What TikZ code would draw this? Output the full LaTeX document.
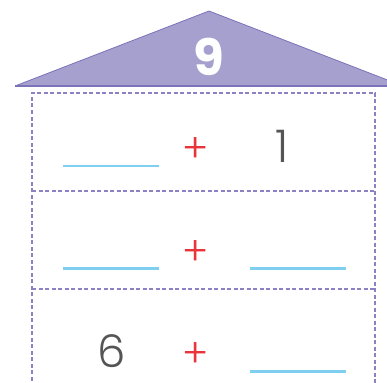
\documentclass[tikz,border=0pt]{standalone}
\usepackage{fontspec}
\setmainfont{Poppins}
\newfontfamily\poplight{Poppins}[UprightFont=* Light]
\definecolor{roofFill}{HTML}{A6A0CF}
\definecolor{roofLine}{HTML}{7B72BA}
\definecolor{boxLine}{HTML}{8A82C2}
\definecolor{blankLine}{HTML}{7FD0F0}
\definecolor{plusRed}{HTML}{E8343A}
\definecolor{digitGray}{HTML}{555555}
\begin{document}
\begin{tikzpicture}[x=1pt,y=-1pt,
  boxline/.style={draw=boxLine,line width=1.2pt,dash pattern=on 4pt off 2.5pt},
  blank/.style={draw=blankLine,line width=2.2pt},
  plussign/.style={text=plusRed,font=\poplight\fontsize{40}{40}\selectfont,inner sep=0pt},
  digit/.style={text=digitGray,font=\poplight\fontsize{45}{45}\selectfont,inner sep=0pt},
  roofnum/.style={text=white,font=\bfseries\fontsize{50}{50}\selectfont,inner sep=0pt}]
\useasboundingbox (0,0) rectangle (387,382);
% roof
\coordinate (rl) at (15,86);
\coordinate (ra) at (209,11);
\coordinate (rr) at (403,86);
\fill[roofFill] (rl) -- (ra) -- (rr) -- cycle;
\draw[roofLine,line width=0.8pt] (rl) -- (ra) -- (rr);
\draw[roofLine,line width=1.2pt] (rl) -- (rr);
\node[roofnum] (nine) at (209,57) {9};
% dashed house body
\coordinate (bl) at (32,400);
\coordinate (tl) at (32,93);
\coordinate (tr) at (375,93);
\coordinate (br) at (375,400);
\draw[boxline] (bl) -- (tl) -- (tr) -- (br);
\coordinate (d1l) at (32,191);
\coordinate (d1r) at (375,191);
\coordinate (d2l) at (32,289);
\coordinate (d2r) at (375,289);
\draw[boxline] (d1l) -- (d1r);
\draw[boxline] (d2l) -- (d2r);
% row 1
\coordinate (b1a) at (63,166); \coordinate (b1b) at (159,166);
\draw[blank] (b1a) -- (b1b);
\node[plussign] (p1) at (196,150) {+};
\node[digit] (one) at (282,146) {1};
% row 2
\coordinate (b2a) at (63,268.5); \coordinate (b2b) at (159,268.5);
\draw[blank] (b2a) -- (b2b);
\node[plussign] (p2) at (196,253) {+};
\coordinate (b3a) at (250,268.5); \coordinate (b3b) at (346,268.5);
\draw[blank] (b3a) -- (b3b);
% row 3
\node[digit] (six) at (111.5,351) {6};
\node[plussign] (p3) at (196,355) {+};
\coordinate (b4a) at (250,371.5); \coordinate (b4b) at (346,371.5);
\draw[blank] (b4a) -- (b4b);
\end{tikzpicture}
\end{document}
